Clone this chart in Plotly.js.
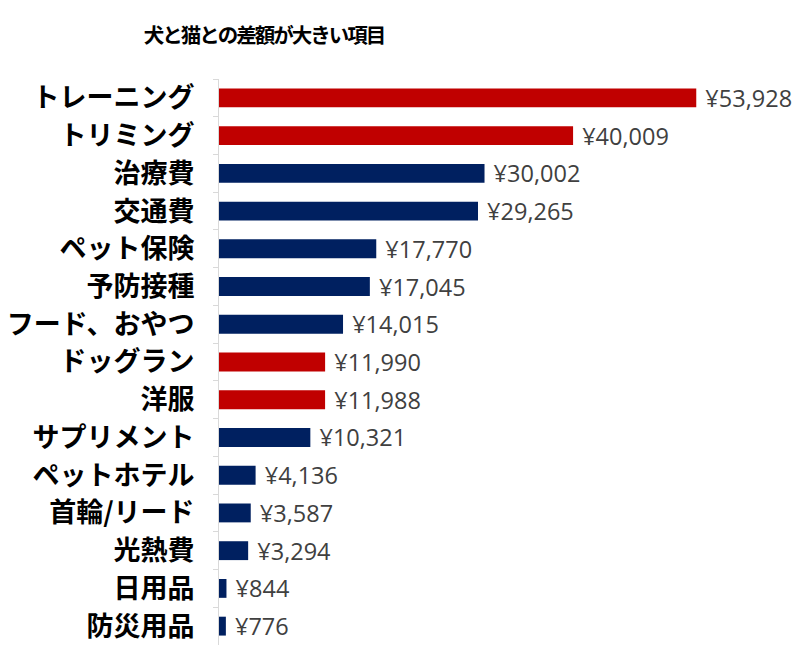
<!DOCTYPE html>
<html><head><meta charset="utf-8">
<script src="https://cdn.plot.ly/plotly-3.0.1.min.js"></script>
<style>html,body{margin:0;padding:0;background:#fff}#chart{width:800px;height:659px}</style>
</head><body><div id="chart"></div>
<script>
const categories = ["トレーニング","トリミング","治療費","交通費","ペット保険","予防接種","フード、おやつ","ドッグラン","洋服","サプリメント","ペットホテル","首輪/リード","光熱費","日用品","防災用品"];
const values = [53928,40009,30002,29265,17770,17045,14015,11990,11988,10321,4136,3587,3294,844,776];
const dogOnly = [true,true,false,false,false,false,false,true,true,false,false,false,false,false,false];
const RED = "#C00000", NAVY = "#002060";

const trace = {
  type: "bar", orientation: "h",
  y: categories, x: values,
  marker: {color: dogOnly.map(d => d ? RED : NAVY)},
  texttemplate: " ¥%{x:,}", textposition: "outside",
  textfont: {family: "Open Sans, sans-serif", size: 23.5, color: "#404040"},
  cliponaxis: false, constraintext: "none", hoverinfo: "none"
};
const layout = {
  width: 800, height: 659,
  margin: {l: 219, r: 50, t: 79, b: 14},
  paper_bgcolor: "#fff", plot_bgcolor: "#fff",
  bargap: 0.5, showlegend: false,
  title: {text: "<span style='letter-spacing:-2px'>犬と猫との差額が大きい項目</span>", x: 0.33, xanchor: "center", xref: "container", y: 0.945, yanchor: "middle",
          font: {family: "Noto Sans CJK JP, sans-serif", size: 20.5, color: "#000", weight: "bold"}},
  xaxis: {range: [0, 60000], visible: false, fixedrange: true},
  yaxis: {type: "category", autorange: "reversed", showline: true, linecolor: "#d9d9d9", linewidth: 1,
          ticks: "outside", ticklen: 5, tickcolor: "#d9d9d9", tickson: "boundaries", showgrid: false,
          ticklabelstandoff: 18,
          tickfont: {family: "Noto Sans CJK JP, sans-serif", size: 27, color: "#000", weight: "bold"}}
};
Plotly.newPlot("chart", [trace], layout, {displayModeBar: false, staticPlot: true});
</script></body></html>
